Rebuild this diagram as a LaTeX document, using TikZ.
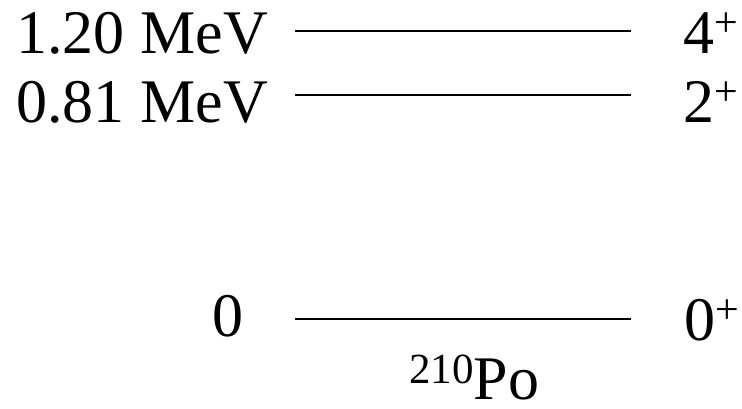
\documentclass[tikz,border=0pt]{standalone}
\usepackage{fontspec}
\setmainfont{Liberation Serif}
\newcommand{\bigtxt}{\fontsize{62}{62}\selectfont}
\newcommand{\supplus}{\raisebox{17pt}{\fontsize{42}{42}\selectfont +}}
\begin{document}
\begin{tikzpicture}[x=1pt,y=-1pt,
  level/.style={line width=2pt},
  lbl/.style={inner sep=0pt,font=\bigtxt}]
\useasboundingbox (0,0) rectangle (742,408);
% levels
\coordinate (l1a) at (295,30.5); \coordinate (l1b) at (631,30.5);
\coordinate (l2a) at (295,94.5); \coordinate (l2b) at (631,94.5);
\coordinate (l0a) at (295,319);  \coordinate (l0b) at (631,319);
\draw[level] (l1a) -- (l1b);
\draw[level] (l2a) -- (l2b);
\draw[level] (l0a) -- (l0b);
% energies
\node[lbl,anchor=base east] (e1) at (268,53) {1.20 MeV};
\node[lbl,anchor=base east] (e2) at (268,122) {0.81 MeV};
\node[lbl,anchor=base] (e0) at (228,336) {0};
% spins
\node[lbl,anchor=base west] (s1) at (683,53) {4\supplus};
\node[lbl,anchor=base west] (s2) at (683,122) {2\supplus};
\node[lbl,anchor=base west] (s0) at (684,340) {0\supplus};
% nucleus
\node[lbl,anchor=base west] (po) at (409,399) {\raisebox{16pt}{\fontsize{43}{43}\selectfont 210}Po};
\end{tikzpicture}
\end{document}
